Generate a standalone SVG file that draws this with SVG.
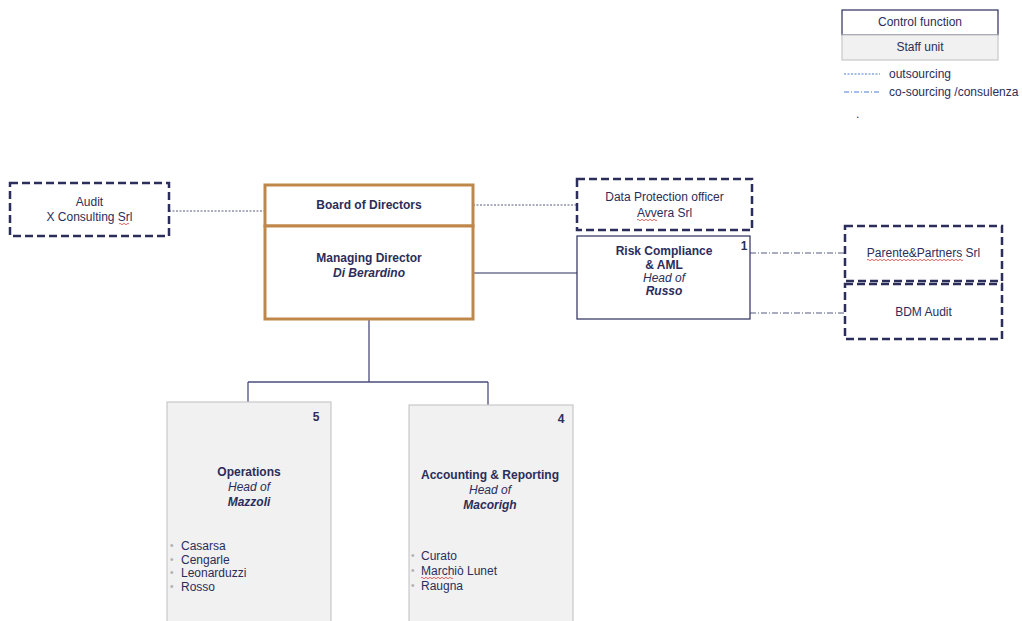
<svg xmlns="http://www.w3.org/2000/svg" width="1022" height="621" viewBox="0 0 1022 621">
<defs>
<style>
text{font-family:"Liberation Sans",Arial,sans-serif;font-size:12px;fill:#2b2d5a}
.c{text-anchor:middle}
.b{font-weight:bold}
.i{font-style:italic}
.dash{fill:#fff;stroke:#2b2d5a;stroke-width:2.5;stroke-dasharray:8 4}
.gold{fill:#fff;stroke:#c0874a;stroke-width:3}
.solid{fill:#fff;stroke:#2b2d5a;stroke-width:1.2}
.staff{fill:#f1f1f1;stroke:#c8c8c8;stroke-width:1.2}
.bul{fill:#b0b0b0;font-size:10px}
.sq{fill:none;stroke:#e04040;stroke-width:0.8}
</style>
</defs>
<rect width="1022" height="621" fill="#fff"/>
<g id="legend">
<rect x="842" y="10" width="156" height="25" class="solid"/>
<text x="920" y="26" class="c">Control function</text>
<rect x="842" y="35" width="156" height="25" class="staff"/>
<text x="920" y="51" class="c">Staff unit</text>
<line x1="844" y1="74" x2="880" y2="74" stroke="#4a7fd0" stroke-width="1" stroke-dasharray="2 1.5"/>
<text x="889" y="78">outsourcing</text>
<line x1="844" y1="92" x2="880" y2="92" stroke="#4a7fd0" stroke-width="1" stroke-dasharray="5 2 1 2"/>
<text x="889" y="96">co-sourcing /consulenza</text>
<text x="856" y="118">.</text>
</g>
<g id="connectors" fill="none">
<line x1="169" y1="211" x2="265" y2="211" stroke="#555a80" stroke-width="1" stroke-dasharray="2 1.5"/>
<line x1="473" y1="205" x2="577" y2="205" stroke="#555a80" stroke-width="1" stroke-dasharray="2 1.5"/>
<line x1="473" y1="273" x2="577" y2="273" stroke="#2b2d5a" stroke-width="1"/>
<line x1="750" y1="253" x2="845" y2="253" stroke="#555a80" stroke-width="1" stroke-dasharray="6 2 1 2"/>
<line x1="750" y1="313" x2="845" y2="313" stroke="#555a80" stroke-width="1" stroke-dasharray="6 2 1 2"/>
<path d="M369 320 V382 M248 382 H488 M248 382 V402 M488 382 V405" stroke="#4a4d7a" stroke-width="1.3"/>
</g>
<g id="audit">
<rect x="10" y="183" width="159" height="53" class="dash"/>
<text x="89.5" y="206" class="c">Audit</text>
<text x="89.5" y="221" class="c">X Consulting Srl</text>
<path d="M119 224 q1 -1.5 2 0 t2 0 t2 0 t2 0 t2 0" class="sq"/>
</g>
<g id="board">
<rect x="265" y="185" width="208" height="41" class="gold"/>
<text x="369" y="209" class="c b">Board of Directors</text>
</g>
<g id="md">
<rect x="265" y="226" width="208" height="93" class="gold"/>
<text x="369" y="262" class="c b">Managing Director</text>
<text x="369" y="277" class="c b i">Di Berardino</text>
</g>
<g id="dpo">
<rect x="577" y="179" width="175" height="51" class="dash"/>
<text x="664.5" y="201" class="c">Data Protection officer</text>
<text x="664.5" y="217" class="c">Avvera Srl</text>
<path d="M637 220 q1 -1.5 2 0 t2 0 t2 0 t2 0 t2 0 t2 0 t2 0 t2 0 t2 0 t2 0" class="sq"/>
</g>
<g id="risk">
<rect x="577" y="236" width="173" height="83" class="solid"/>
<text x="744" y="250" class="c b">1</text>
<text x="664" y="255" class="c b">Risk Compliance</text>
<text x="664" y="269" class="c b">&amp; AML</text>
<text x="664" y="282" class="c i">Head of</text>
<text x="664" y="295" class="c b i">Russo</text>
</g>
<g id="parente">
<rect x="845" y="226" width="157" height="55" class="dash"/>
<text x="923.5" y="257" class="c">Parente&amp;Partners Srl</text>
<path d="M867 260 q1 -1.5 2 0 t2 0 t2 0 t2 0 t2 0 t2 0 t2 0 t2 0 t2 0 t2 0 t2 0 t2 0 t2 0 t2 0 t2 0 t2 0 t2 0 t2 0 t2 0 t2 0 t2 0 t2 0 t2 0 t2 0 t2 0 t2 0 t2 0 t2 0 t2 0 t2 0 t2 0 t2 0 t2 0 t2 0 t2 0 t2 0 t2 0 t2 0 t2 0 t2 0 t2 0 t2 0 t2 0 t2 0 t2 0 t2 0 t2 0 t2 0" class="sq"/>
</g>
<g id="bdm">
<rect x="845" y="284" width="157" height="55" class="dash"/>
<text x="923.5" y="316" class="c">BDM Audit</text>
</g>
<g id="operations">
<rect x="167" y="402" width="164" height="230" class="staff"/>
<text x="316" y="421" class="c b">5</text>
<text x="249" y="476" class="c b">Operations</text>
<text x="249" y="491" class="c i">Head of</text>
<text x="249" y="506" class="c b i">Mazzoli</text>
<text x="170" y="549" class="bul">•</text><text x="181" y="550">Casarsa</text>
<text x="170" y="563" class="bul">•</text><text x="181" y="564">Cengarle</text>
<text x="170" y="576" class="bul">•</text><text x="181" y="577">Leonarduzzi</text>
<text x="170" y="590" class="bul">•</text><text x="181" y="591">Rosso</text>
</g>
<g id="accounting">
<rect x="409" y="405" width="164" height="230" class="staff"/>
<text x="561" y="423" class="c b">4</text>
<text x="490" y="479" class="c b">Accounting &amp; Reporting</text>
<text x="490" y="494" class="c i">Head of</text>
<text x="490" y="509" class="c b i">Macorigh</text>
<text x="411" y="559" class="bul">•</text><text x="421" y="560">Curato</text>
<text x="411" y="574" class="bul">•</text><text x="421" y="575">Marchiò Lunet</text>
<path d="M421 578 q1 -1.5 2 0 t2 0 t2 0 t2 0 t2 0 t2 0 t2 0 t2 0 t2 0 t2 0 t2 0 t2 0 t2 0 t2 0 t2 0 t2 0" class="sq"/>
<text x="411" y="589" class="bul">•</text><text x="421" y="590">Raugna</text>
</g>
</svg>
